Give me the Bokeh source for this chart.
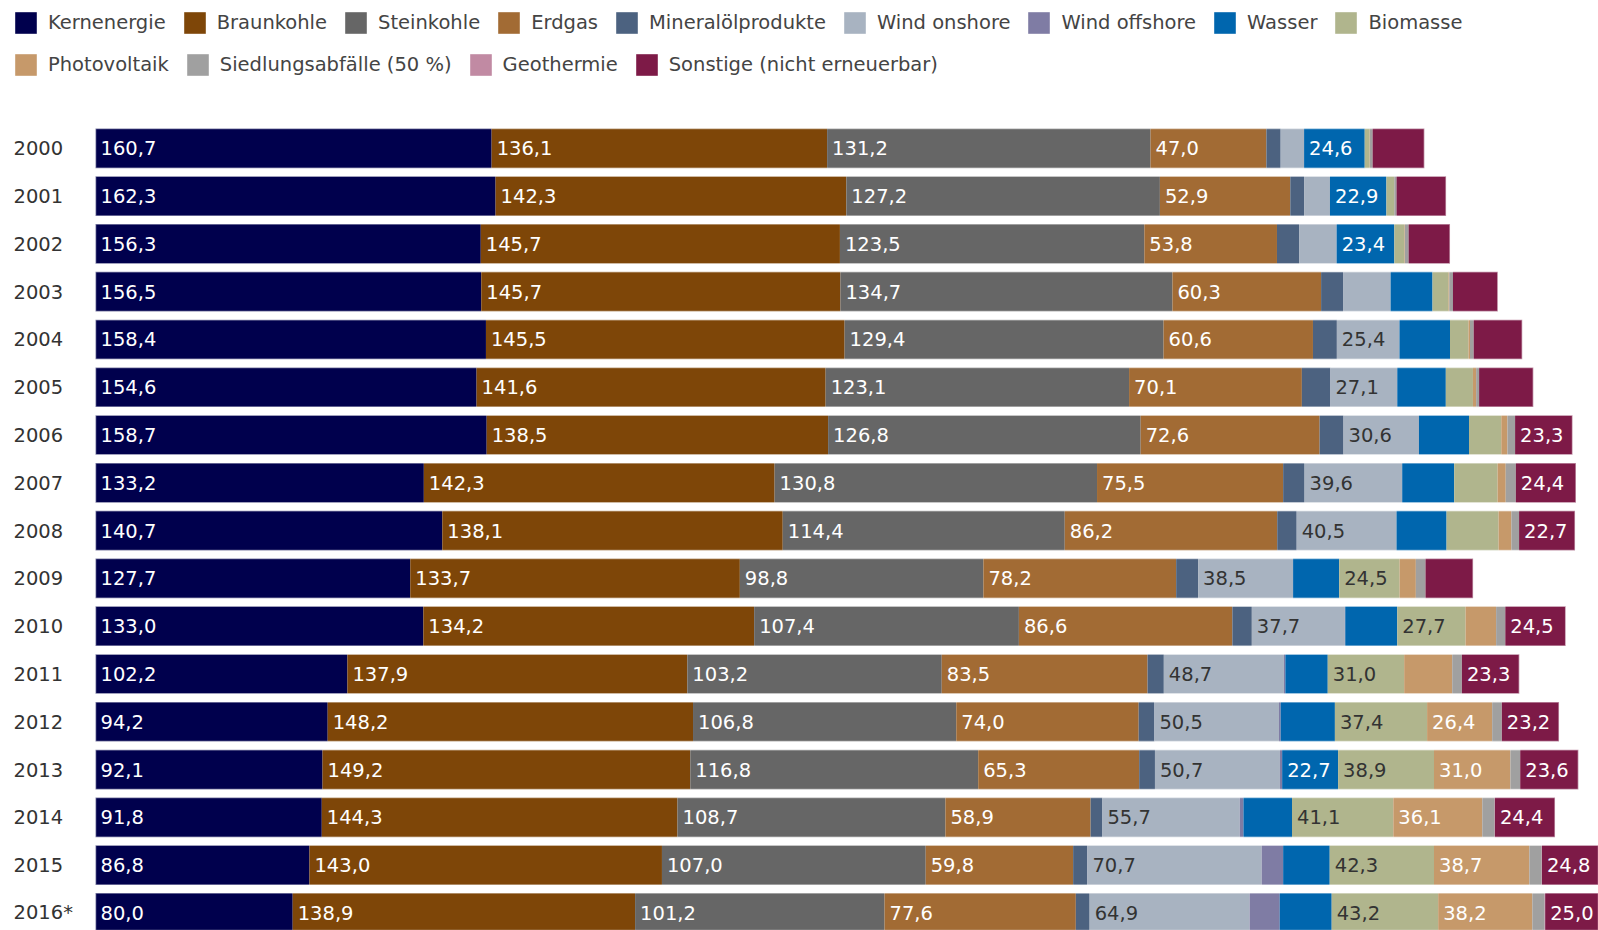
from bokeh.plotting import figure
from bokeh.models import Legend, LegendItem, Range1d, ColumnDataSource
from bokeh.embed import file_html
from bokeh.resources import INLINE
from bokeh.core.properties import value
import numpy as np

# ---------------- data (TWh) ----------------
years = ["2000", "2001", "2002", "2003", "2004", "2005", "2006", "2007", "2008",
         "2009", "2010", "2011", "2012", "2013", "2014", "2015", "2016*"]

kernenergie = [160.7, 162.3, 156.3, 156.5, 158.4, 154.6, 158.7, 133.2, 140.7, 127.7, 133.0, 102.2, 94.2, 92.1, 91.8, 86.8, 80.0]
braunkohle = [136.1, 142.3, 145.7, 145.7, 145.5, 141.6, 138.5, 142.3, 138.1, 133.7, 134.2, 137.9, 148.2, 149.2, 144.3, 143.0, 138.9]
steinkohle = [131.2, 127.2, 123.5, 134.7, 129.4, 123.1, 126.8, 130.8, 114.4, 98.8, 107.4, 103.2, 106.8, 116.8, 108.7, 107.0, 101.2]
erdgas = [47.0, 52.9, 53.8, 60.3, 60.6, 70.1, 72.6, 75.5, 86.2, 78.2, 86.6, 83.5, 74.0, 65.3, 58.9, 59.8, 77.6]
mineraloel = [5.8, 5.6, 9.1, 8.9, 9.7, 11.6, 9.7, 8.7, 7.9, 8.9, 7.9, 6.6, 6.4, 6.4, 4.8, 5.8, 5.6]
wind_onshore = [9.5, 10.5, 15.1, 19.3, 25.4, 27.1, 30.6, 39.6, 40.5, 38.5, 37.7, 48.7, 50.5, 50.7, 55.7, 70.7, 64.9]
wind_offshore = [0.0, 0.0, 0.0, 0.0, 0.0, 0.0, 0.0, 0.0, 0.0, 0.04, 0.2, 0.6, 0.7, 0.9, 1.5, 8.7, 12.2]
wasser = [24.6, 22.9, 23.4, 17.0, 20.5, 19.7, 20.3, 21.1, 20.3, 18.7, 21.1, 17.2, 22.0, 22.7, 19.7, 18.9, 21.1]
biomasse = [2.0, 3.1, 4.1, 6.5, 7.5, 11.0, 13.1, 17.6, 21.1, 24.5, 27.7, 31.0, 37.4, 38.9, 41.1, 42.3, 43.2]
photovoltaik = [0.1, 0.1, 0.2, 0.3, 0.6, 1.3, 2.5, 3.3, 5.2, 6.6, 12.4, 19.5, 26.4, 31.0, 36.1, 38.7, 38.2]
siedlungsabfaelle = [1.1, 0.9, 1.5, 1.5, 1.5, 1.2, 3.1, 4.1, 3.1, 3.9, 3.7, 3.9, 3.9, 3.9, 5.0, 5.0, 5.0]
geothermie = [0.0, 0.0, 0.0, 0.0, 0.0, 0.0, 0.0, 0.0, 0.02, 0.02, 0.03, 0.02, 0.03, 0.08, 0.1, 0.1, 0.2]
sonstige = [21.0, 20.1, 16.8, 18.2, 19.7, 22.0, 23.3, 24.4, 22.7, 19.3, 24.5, 23.3, 23.2, 23.6, 24.4, 24.8, 25.0]

series_names = ["Kernenergie", "Braunkohle", "Steinkohle", "Erdgas", "Mineralölprodukte",
                "Wind onshore", "Wind offshore", "Wasser", "Biomasse", "Photovoltaik",
                "Siedlungsabfälle (50 %)", "Geothermie", "Sonstige (nicht erneuerbar)"]
series_values = [kernenergie, braunkohle, steinkohle, erdgas, mineraloel, wind_onshore,
                 wind_offshore, wasser, biomasse, photovoltaik, siedlungsabfaelle,
                 geothermie, sonstige]
colors = ["#00004d", "#7e4608", "#666666", "#a26b34", "#4c6280", "#a8b3c1", "#7f7ca4",
          "#0066ae", "#b0b58d", "#c6996a", "#a0a0a0", "#c18aa3", "#7d1a47"]
dark_label_series = {"Wind onshore", "Biomasse"}

# ---------------- layout constants ----------------
W, H = 1598, 930
BAR_START_PX = 95          # canvas x where value 0 sits
PX_PER_UNIT = 2.465
PITCH = 47.79
FIRST_CENTER = 147.8       # canvas y of the first bar's centre
YEAR_LEFT_PX = 13          # canvas x of the year labels' left edge
FONT = "DejaVu Sans"
FS = "19.5px"

n = len(years)
keys = [f"s{k}" for k in range(len(series_names))]
arr = np.array(series_values, dtype=float)
data = {"y": list(range(n)), "year": years, "zero": [0.0] * n, "total": arr.sum(axis=0).tolist()}
for key, vals in zip(keys, series_values):
    data[key] = vals
src = ColumnDataSource(data)

x_start = -BAR_START_PX / PX_PER_UNIT
x_end = (W - BAR_START_PX) / PX_PER_UNIT
y_top = -FIRST_CENTER / PITCH
y_bottom = (n - 1) + (H - (FIRST_CENTER + (n - 1) * PITCH)) / PITCH

p = figure(width=W, height=H, x_range=Range1d(x_start, x_end), y_range=Range1d(y_bottom, y_top),
           output_backend="svg", toolbar_location=None, x_axis_location=None, y_axis_location=None,
           min_border_left=0, min_border_right=0, min_border_top=0, min_border_bottom=0)
p.outline_line_color = None
p.grid.visible = False
p.background_fill_color = "white"
p.border_fill_color = "white"

renderers = p.hbar_stack(keys, y="y", height=0.83, fill_color=colors, line_color=None, source=src)

# faint light outline around each whole bar
p.hbar(y="y", left="zero", right="total", height=0.83, source=src, fill_color=None,
       line_color="white", line_alpha=0.5, line_width=1.5)

# year labels (category labels, left aligned in front of the bars)
p.text(x="zero", y="y", text="year", source=src, x_offset=YEAR_LEFT_PX - BAR_START_PX,
       text_align="left", text_baseline="middle", text_color="#333333",
       text_font=value(FONT), text_font_size=FS)

# labels inside segments
starts = np.vstack([np.zeros(n), np.cumsum(arr, axis=0)[:-1]])
lx, ly, lt, lc = [], [], [], []
for k, name in enumerate(series_names):
    for i in range(n):
        v = arr[k, i]
        if v >= 22.5:
            lx.append(starts[k, i])
            ly.append(i)
            lt.append(f"{v:.1f}".replace(".", ","))
            lc.append("#333333" if name in dark_label_series else "white")
lsrc = ColumnDataSource(dict(x=lx, y=ly, t=lt, c=lc))
p.text(x="x", y="y", text="t", text_color="c", source=lsrc, x_offset=5,
       text_baseline="middle", text_align="left", text_font=value(FONT), text_font_size=FS)

# legends (two flowing rows)
items = [LegendItem(label=nm, renderers=[r]) for nm, r in zip(series_names, renderers)]
common = dict(orientation="horizontal", glyph_width=27, glyph_height=27, label_height=27,
              label_standoff=9, spacing=15, padding=0, margin=0, border_line_color=None,
              background_fill_alpha=0, label_text_font=FONT, label_text_font_size=FS,
              label_text_color="#444444", label_text_baseline="middle")
leg1 = Legend(items=items[:9], location=(12, H - 9 - 27), **common)
leg2 = Legend(items=items[9:], location=(12, H - 51 - 27), **common)
p.add_layout(leg1)
p.add_layout(leg2)

open("out.html", "w").write(file_html(p, INLINE))
